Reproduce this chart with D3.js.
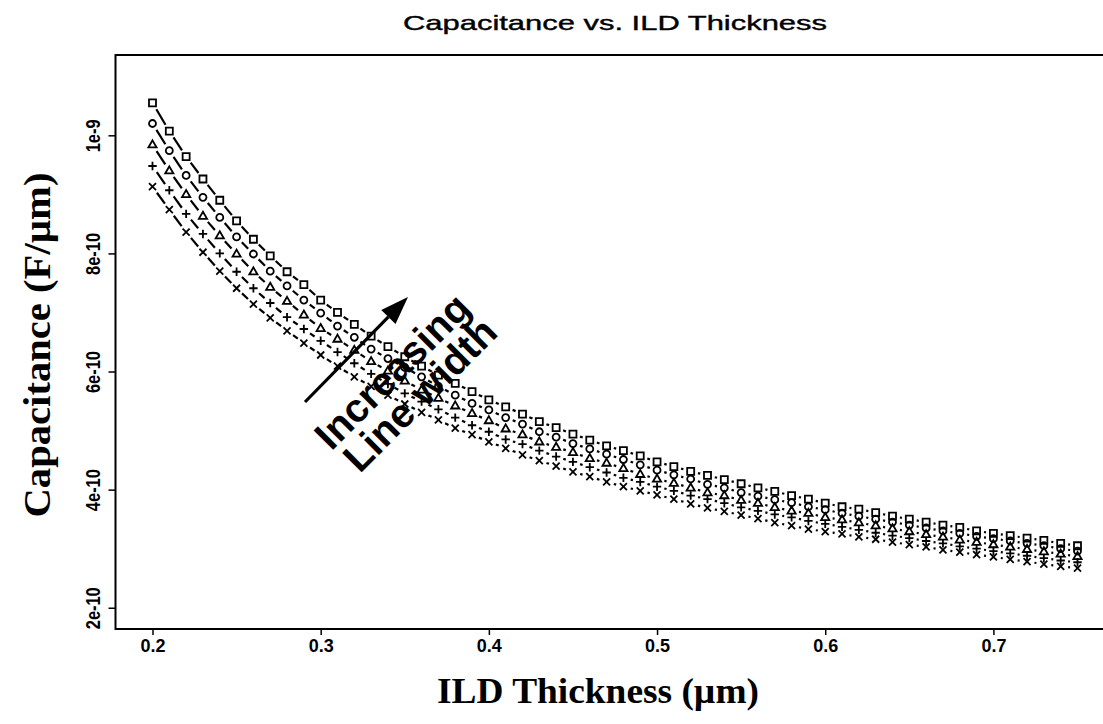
<!DOCTYPE html>
<html>
<head>
<meta charset="utf-8">
<script src="https://cdn.jsdelivr.net/npm/d3@7"></script>
<style>
  body { margin: 0; background: #fff; }
  svg { display: block; }
</style>
</head>
<body>
<svg id="chart" width="1103" height="724"></svg>
<script>
// ILD thickness (µm)
const thickness = [
  0.20, 0.21, 0.22, 0.23, 0.24, 0.25, 0.26, 0.27, 0.28, 0.29,
  0.30, 0.31, 0.32, 0.33, 0.34, 0.35, 0.36, 0.37, 0.38, 0.39,
  0.40, 0.41, 0.42, 0.43, 0.44, 0.45, 0.46, 0.47, 0.48, 0.49,
  0.50, 0.51, 0.52, 0.53, 0.54, 0.55, 0.56, 0.57, 0.58, 0.59,
  0.60, 0.61, 0.62, 0.63, 0.64, 0.65, 0.66, 0.67, 0.68, 0.69,
  0.70, 0.71, 0.72, 0.73, 0.74, 0.75
];

// Capacitance per unit length (F/µm), narrowest line first
const capWidth1 = [
  9.13e-10, 8.74e-10, 8.36e-10, 8.02e-10, 7.70e-10, 7.41e-10, 7.14e-10, 6.91e-10, 6.69e-10, 6.48e-10,
  6.28e-10, 6.09e-10, 5.91e-10, 5.75e-10, 5.60e-10, 5.45e-10, 5.31e-10, 5.18e-10, 5.04e-10, 4.93e-10,
  4.81e-10, 4.70e-10, 4.59e-10, 4.49e-10, 4.40e-10, 4.30e-10, 4.22e-10, 4.13e-10, 4.05e-10, 3.98e-10,
  3.91e-10, 3.84e-10, 3.76e-10, 3.69e-10, 3.63e-10, 3.57e-10, 3.51e-10, 3.44e-10, 3.39e-10, 3.33e-10,
  3.29e-10, 3.25e-10, 3.20e-10, 3.16e-10, 3.11e-10, 3.07e-10, 3.03e-10, 2.98e-10, 2.94e-10, 2.90e-10,
  2.86e-10, 2.82e-10, 2.78e-10, 2.74e-10, 2.70e-10, 2.67e-10
];
const capWidth2 = [
  9.48e-10, 9.07e-10, 8.67e-10, 8.33e-10, 8.00e-10, 7.69e-10, 7.41e-10, 7.16e-10, 6.92e-10, 6.72e-10,
  6.52e-10, 6.33e-10, 6.14e-10, 5.96e-10, 5.79e-10, 5.63e-10, 5.49e-10, 5.36e-10, 5.22e-10, 5.09e-10,
  4.98e-10, 4.85e-10, 4.77e-10, 4.66e-10, 4.56e-10, 4.47e-10, 4.38e-10, 4.29e-10, 4.20e-10, 4.13e-10,
  4.05e-10, 3.98e-10, 3.90e-10, 3.84e-10, 3.77e-10, 3.70e-10, 3.64e-10, 3.58e-10, 3.53e-10, 3.47e-10,
  3.42e-10, 3.37e-10, 3.32e-10, 3.27e-10, 3.22e-10, 3.18e-10, 3.13e-10, 3.09e-10, 3.04e-10, 3.00e-10,
  2.96e-10, 2.92e-10, 2.88e-10, 2.84e-10, 2.80e-10, 2.77e-10
];
const capWidth3 = [
  9.84e-10, 9.40e-10, 9.00e-10, 8.63e-10, 8.30e-10, 7.99e-10, 7.69e-10, 7.43e-10, 7.19e-10, 6.96e-10,
  6.73e-10, 6.55e-10, 6.36e-10, 6.17e-10, 6.01e-10, 5.84e-10, 5.69e-10, 5.55e-10, 5.42e-10, 5.29e-10,
  5.17e-10, 5.03e-10, 4.93e-10, 4.81e-10, 4.72e-10, 4.63e-10, 4.53e-10, 4.45e-10, 4.36e-10, 4.26e-10,
  4.18e-10, 4.11e-10, 4.03e-10, 3.95e-10, 3.90e-10, 3.82e-10, 3.77e-10, 3.70e-10, 3.64e-10, 3.60e-10,
  3.53e-10, 3.49e-10, 3.44e-10, 3.39e-10, 3.34e-10, 3.29e-10, 3.24e-10, 3.20e-10, 3.15e-10, 3.11e-10,
  3.07e-10, 3.03e-10, 2.99e-10, 2.95e-10, 2.91e-10, 2.87e-10
];
const capWidth4 = [
  10.20e-10, 9.74e-10, 9.32e-10, 8.95e-10, 8.61e-10, 8.28e-10, 7.99e-10, 7.70e-10, 7.45e-10, 7.21e-10,
  6.99e-10, 6.77e-10, 6.58e-10, 6.38e-10, 6.22e-10, 6.07e-10, 5.91e-10, 5.75e-10, 5.60e-10, 5.46e-10,
  5.35e-10, 5.22e-10, 5.11e-10, 4.98e-10, 4.89e-10, 4.78e-10, 4.69e-10, 4.60e-10, 4.51e-10, 4.42e-10,
  4.33e-10, 4.25e-10, 4.18e-10, 4.09e-10, 4.03e-10, 3.95e-10, 3.89e-10, 3.83e-10, 3.78e-10, 3.71e-10,
  3.66e-10, 3.60e-10, 3.55e-10, 3.50e-10, 3.45e-10, 3.40e-10, 3.35e-10, 3.30e-10, 3.26e-10, 3.21e-10,
  3.17e-10, 3.13e-10, 3.09e-10, 3.05e-10, 3.00e-10, 2.96e-10
];
const capWidth5 = [
  10.55e-10, 10.07e-10, 9.64e-10, 9.26e-10, 8.90e-10, 8.55e-10, 8.24e-10, 7.96e-10, 7.69e-10, 7.47e-10,
  7.21e-10, 7.00e-10, 6.80e-10, 6.60e-10, 6.42e-10, 6.25e-10, 6.09e-10, 5.94e-10, 5.80e-10, 5.66e-10,
  5.52e-10, 5.40e-10, 5.28e-10, 5.15e-10, 5.05e-10, 4.94e-10, 4.84e-10, 4.74e-10, 4.66e-10, 4.57e-10,
  4.47e-10, 4.39e-10, 4.31e-10, 4.24e-10, 4.17e-10, 4.10e-10, 4.03e-10, 3.97e-10, 3.90e-10, 3.84e-10,
  3.77e-10, 3.71e-10, 3.67e-10, 3.61e-10, 3.55e-10, 3.50e-10, 3.45e-10, 3.40e-10, 3.36e-10, 3.30e-10,
  3.26e-10, 3.22e-10, 3.18e-10, 3.14e-10, 3.09e-10, 3.05e-10
];

const seriesList = [capWidth1, capWidth2, capWidth3, capWidth4, capWidth5];
const markerShapes = ["cross", "plus", "triangle", "circle", "square"];

const xTickValues = [0.2, 0.3, 0.4, 0.5, 0.6, 0.7];
const xTickLabels = ["0.2", "0.3", "0.4", "0.5", "0.6", "0.7"];
const yTickValues = [2e-10, 4e-10, 6e-10, 8e-10, 1e-9];
const yTickLabels = ["2e-10", "4e-10", "6e-10", "8e-10", "1e-9"];
const yLimits = [2e-10, 1.1e-9];

const titleText = "Capacitance vs. ILD Thickness";
const xLabelText = "ILD Thickness (\u00b5m)";
const yLabelText = "Capacitance (F/\u00b5m)";
const noteLines = ["Increasing", "Line width"];

// ---- layout ----
const plot = { left: 115.5, right: 1114.5, top: 55, bottom: 629 };
const svg = d3.select("#chart");

// axis ranges padded by 4% on each side
const xExt = d3.extent(thickness);
const xPad = (xExt[1] - xExt[0]) * 0.04;
const yPad = (yLimits[1] - yLimits[0]) * 0.04;

const x = d3.scaleLinear()
  .domain([xExt[0] - xPad, xExt[1] + xPad])
  .range([plot.left, plot.right]);
const y = d3.scaleLinear()
  .domain([yLimits[0] - yPad, yLimits[1] + yPad])
  .range([plot.bottom, plot.top]);

const sansFont = "'Liberation Sans', Arial, Helvetica, sans-serif";
const serifFont = "'Liberation Serif', 'Times New Roman', serif";

// ---- series: lines with gaps around each point, then point symbols ----
const gap = 7.5;
const gData = svg.append("g");

const symbolPath = {
  square: "M-3.5,-3.5H3.5V3.5H-3.5Z",
  circle: "M3.5,0A3.5,3.5 0 1 1 -3.5,0A3.5,3.5 0 1 1 3.5,0Z",
  triangle: "M0,-4.4L4.1,2.7H-4.1Z",
  plus: "M-4.2,0H4.2M0,-4.2V4.2",
  cross: "M-3.5,-3.5L3.5,3.5M-3.5,3.5L3.5,-3.5"
};

seriesList.forEach((vals, si) => {
  const pts = vals.map((v, i) => [x(thickness[i]), y(v)]);
  const segs = [];
  for (let i = 0; i < pts.length - 1; i++) {
    const [x0, y0] = pts[i], [x1, y1] = pts[i + 1];
    const dx = x1 - x0, dy = y1 - y0, d = Math.hypot(dx, dy);
    if (d > 2 * gap) {
      const ux = dx / d, uy = dy / d;
      segs.push([x0 + ux * gap, y0 + uy * gap, x1 - ux * gap, y1 - uy * gap]);
    }
  }
  gData.append("g").selectAll("line").data(segs).join("line")
    .attr("x1", d => d[0]).attr("y1", d => d[1])
    .attr("x2", d => d[2]).attr("y2", d => d[3])
    .attr("stroke", "#000").attr("stroke-width", 2.2);

  gData.append("g")
    .attr("fill", "none").attr("stroke", "#000").attr("stroke-width", 1.8)
    .selectAll("path").data(pts).join("path")
    .attr("transform", d => `translate(${d[0]},${d[1]})`)
    .attr("d", symbolPath[markerShapes[si]]);
});

// ---- frame ----
svg.append("path")
  .attr("d", `M${plot.right},${plot.top}H${plot.left}V${plot.bottom}H${plot.right}`)
  .attr("fill", "none").attr("stroke", "#000").attr("stroke-width", 2);

// ---- axes ----
const xAxis = d3.axisBottom(x).tickValues(xTickValues)
  .tickFormat((d, i) => xTickLabels[i]).tickSize(6).tickSizeOuter(0).tickPadding(4);
const gx = svg.append("g").attr("transform", `translate(0,${plot.bottom})`).call(xAxis);
gx.select(".domain").remove();
gx.selectAll("line").attr("stroke", "#000").attr("stroke-width", 1.5);
gx.selectAll("text")
  .attr("font-family", sansFont).attr("font-weight", "bold").attr("font-size", 18)
  .attr("fill", "#000").attr("dy", "0.71em");

const yAxis = d3.axisLeft(y).tickValues(yTickValues)
  .tickFormat((d, i) => yTickLabels[i]).tickSize(7).tickSizeOuter(0);
const gy = svg.append("g").attr("transform", `translate(${plot.left},0)`).call(yAxis);
gy.select(".domain").remove();
gy.selectAll("line").attr("stroke", "#000").attr("stroke-width", 1.5);
gy.selectAll("text")
  .attr("transform", "rotate(-90)")
  .attr("x", 0).attr("y", -16).attr("dy", 0)
  .attr("text-anchor", "middle")
  .attr("font-family", sansFont).attr("font-weight", "bold").attr("font-size", 21)
  .attr("fill", "#000")
  .attr("textLength", (d, i) => yTickLabels[i].length > 4 ? 42 : 33)
  .attr("lengthAdjust", "spacingAndGlyphs");

// ---- titles ----
svg.append("text")
  .attr("x", 615).attr("y", 30)
  .attr("text-anchor", "middle")
  .attr("font-family", sansFont).attr("font-size", 21)
  .attr("fill", "#000").attr("stroke", "#000").attr("stroke-width", 0.4)
  .attr("textLength", 424).attr("lengthAdjust", "spacingAndGlyphs")
  .text(titleText);

svg.append("text")
  .attr("x", 598).attr("y", 703)
  .attr("text-anchor", "middle")
  .attr("font-family", serifFont).attr("font-weight", "bold").attr("font-size", 36)
  .attr("fill", "#000")
  .attr("textLength", 322).attr("lengthAdjust", "spacingAndGlyphs")
  .text(xLabelText);

svg.append("text")
  .attr("transform", "translate(50,345) rotate(-90)")
  .attr("text-anchor", "middle")
  .attr("font-family", serifFont).attr("font-weight", "bold").attr("font-size", 38)
  .attr("fill", "#000")
  .attr("textLength", 345).attr("lengthAdjust", "spacingAndGlyphs")
  .text(yLabelText);

// ---- annotation: arrow and rotated note ----
const arrow = { x0: 305, y0: 402, x1: 408, y1: 297 };
const ang = Math.atan2(arrow.y1 - arrow.y0, arrow.x1 - arrow.x0);
const headLen = 28, headHalf = 10;
const bx = arrow.x1 - headLen * Math.cos(ang), by = arrow.y1 - headLen * Math.sin(ang);
svg.append("line")
  .attr("x1", arrow.x0).attr("y1", arrow.y0).attr("x2", bx).attr("y2", by)
  .attr("stroke", "#000").attr("stroke-width", 3.2);
svg.append("path")
  .attr("d", `M${arrow.x1},${arrow.y1}` +
    `L${bx + headHalf * Math.sin(ang)},${by - headHalf * Math.cos(ang)}` +
    `L${bx - headHalf * Math.sin(ang)},${by + headHalf * Math.cos(ang)}Z`)
  .attr("fill", "#000");

const note = svg.append("g").attr("transform", "translate(402,381) rotate(-45)");
note.selectAll("text").data(noteLines).join("text")
  .attr("x", (d, i) => i * 3).attr("y", (d, i) => i * 36)
  .attr("text-anchor", "middle")
  .attr("font-family", sansFont).attr("font-weight", "bold").attr("font-size", 40)
  .attr("fill", "#000")
  .text(d => d);
</script>
</body>
</html>
